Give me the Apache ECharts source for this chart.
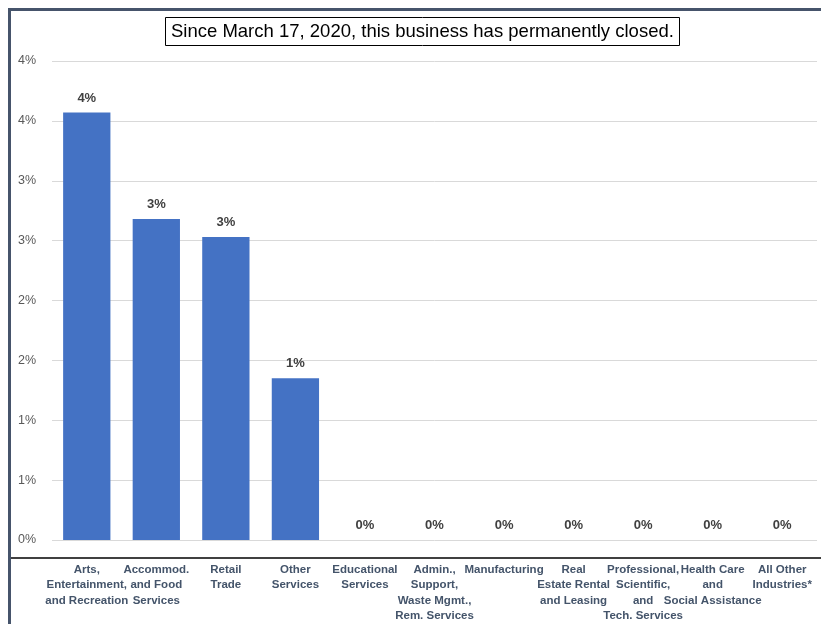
<!DOCTYPE html>
<html>
<head>
<meta charset="utf-8">
<script src="https://cdn.jsdelivr.net/npm/echarts@6/dist/echarts.min.js"></script>
<style>
  html, body { margin: 0; padding: 0; background: #ffffff; }
  #chart { width: 821px; height: 624px; }
</style>
</head>
<body>
<div id="chart"></div>
<script>
// Industry categories (line breaks follow the axis label wrapping)
const categories = [
  'Arts,\nEntertainment,\nand Recreation',
  'Accommod.\nand Food\nServices',
  'Retail\nTrade',
  'Other\nServices',
  'Educational\nServices',
  'Admin.,\nSupport,\nWaste Mgmt.,\nRem. Services',
  'Manufacturing',
  'Real\nEstate Rental\nand Leasing',
  'Professional,\nScientific,\nand\nTech. Services',
  'Health Care\nand\nSocial Assistance',
  'All Other\nIndustries*'
];

// Share of businesses permanently closed, in percent
const closedShare = [3.57, 2.68, 2.53, 1.35, 0, 0, 0, 0, 0, 0, 0];

// Value axis settings (percent)
const yMin = 0;
const yMax = 4;
const yStep = 0.5;

const titleText = 'Since March 17, 2020, this business has permanently closed.';

const chart = echarts.init(document.getElementById('chart'), null, { renderer: 'canvas' });

const fontBase = 'Liberation Sans, Arial, sans-serif';

chart.setOption({
  animation: false,
  backgroundColor: '#ffffff',
  title: {
    text: titleText,
    left: 165,
    top: 17,
    padding: [5, 6, 5, 6],
    borderColor: '#000000',
    borderWidth: 1,
    textStyle: {
      fontFamily: fontBase,
      fontSize: 18.5,
      fontWeight: 'normal',
      color: '#000000'
    }
  },
  grid: {
    left: 52,
    right: 4,
    top: 61,
    bottom: 82,
    containLabel: false
  },
  xAxis: {
    type: 'category',
    data: categories,
    axisLine: { show: false },
    axisTick: { show: false },
    axisLabel: {
      interval: 0,
      margin: 22,
      fontFamily: fontBase,
      fontSize: 11.5,
      fontWeight: 'bold',
      lineHeight: 15.5,
      color: '#44546a',
      align: 'center'
    }
  },
  yAxis: {
    type: 'value',
    min: yMin,
    max: yMax,
    interval: yStep,
    axisLine: { show: false },
    axisTick: { show: false },
    splitLine: { lineStyle: { color: '#d9d9d9', width: 1 } },
    axisLabel: {
      margin: 16,
      fontFamily: fontBase,
      fontSize: 12.5,
      color: '#595959',
      formatter: v => Math.round(v) + '%'
    }
  },
  series: [{
    type: 'bar',
    data: closedShare,
    barCategoryGap: '32%',
    itemStyle: { color: '#4472c4' },
    label: {
      show: true,
      position: 'top',
      distance: 8,
      fontFamily: fontBase,
      fontSize: 13,
      fontWeight: 'bold',
      color: '#404040',
      formatter: p => Math.round(p.value) + '%'
    }
  }],
  graphic: [
    // outer frame (top and left edges)
    { type: 'rect', shape: { x: 8, y: 8, width: 830, height: 3 }, style: { fill: '#46546b' } },
    { type: 'rect', shape: { x: 8, y: 8, width: 3, height: 630 }, style: { fill: '#46546b' } },
    // separator line above the category labels
    { type: 'rect', shape: { x: 11, y: 557, width: 820, height: 2 }, style: { fill: '#404040' } }
  ]
});
</script>
</body>
</html>
